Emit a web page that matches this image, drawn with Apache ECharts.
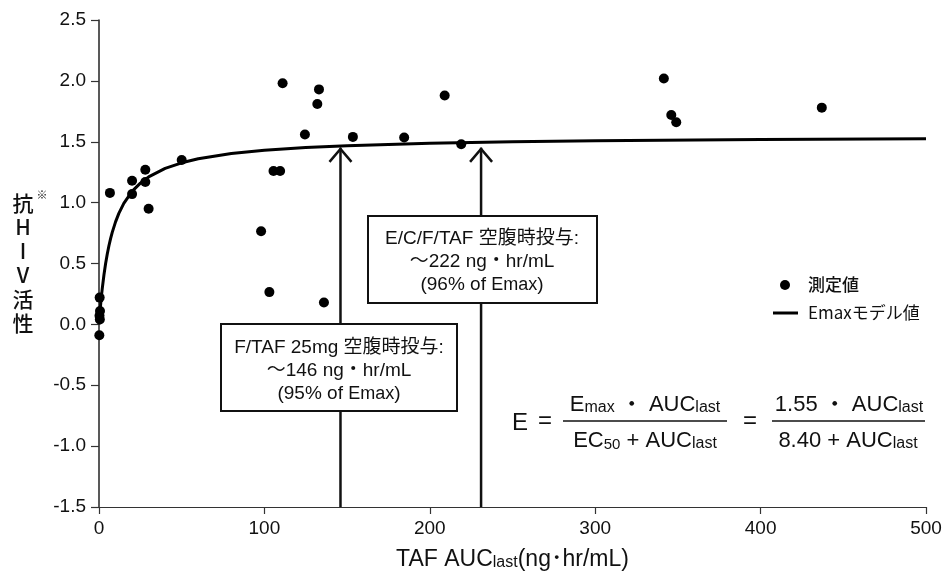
<!DOCTYPE html>
<html>
<head>
<meta charset="utf-8">
<script src="https://cdn.jsdelivr.net/npm/echarts@6/dist/echarts.min.js"></script>
<style>
html,body{margin:0;padding:0;background:#fff;}
#c{width:944px;height:574px;}
</style>
</head>
<body>
<div id="c"></div>
<script>
// ---- data ----
const scatterX = [0.4, 0.6, 0.3, 0.5, 0.2, 6.6, 20, 20, 28, 28, 30, 50, 98, 103, 105.5, 109.5, 111, 124.5, 132, 133, 136, 153.5, 184.5, 209, 219, 341.5, 346, 349, 437];
const scatterY = [0.22, 0.11, 0.07, 0.04, -0.09, 1.08, 1.18, 1.07, 1.27, 1.17, 0.95, 1.35, 0.765, 0.265, 1.26, 1.26, 1.98, 1.56, 1.81, 1.93, 0.18, 1.54, 1.535, 1.88, 1.48, 2.02, 1.72, 1.66, 1.78];
const curveX = [0, 0.5, 1, 1.5, 2, 3, 4, 5, 6, 7, 8, 10, 12, 15, 20, 25, 30, 40, 50, 60, 80, 100, 125, 150, 200, 250, 300, 400, 500];
const curveY = [0, 0.087, 0.165, 0.236, 0.298, 0.408, 0.5, 0.578, 0.646, 0.705, 0.756, 0.842, 0.912, 0.994, 1.092, 1.16, 1.211, 1.281, 1.327, 1.36, 1.403, 1.43, 1.452, 1.468, 1.488, 1.5, 1.508, 1.518, 1.524];
const arrowX = [146, 231];
const arrowTipY = [1.45, 1.45];
const xTicks = [0, 100, 200, 300, 400, 500];
const yTicks = [-1.5, -1.0, -0.5, 0.0, 0.5, 1.0, 1.5, 2.0, 2.5];
const seriesNames = ['測定値', 'Emaxモデル値'];
const box1Lines = ['F/TAF 25mg 空腹時投与:', '～146 ng・hr/mL', '(95% of {m|Emax})'];
const box2Lines = ['E/C/F/TAF 空腹時投与:', '～222 ng・hr/mL', '(96% of {m|Emax})'];
const yTitleChars = ['抗', 'H', 'I', 'V', '活', '性'];

const FONT = "'Liberation Sans', 'Noto Sans CJK JP', sans-serif";
const CJK = "'Noto Sans CJK JP', 'Liberation Sans', sans-serif";
const INK = '#111';

const chart = echarts.init(document.getElementById('c'), null, {renderer: 'canvas'});

function boxTexts(lines, cx, ys) {
  return lines.map((t, i) => ({
    type: 'text', z: 101, x: cx, y: ys[i],
    style: {
      text: t, fill: INK, font: '19px ' + FONT,
      align: 'center', verticalAlign: 'middle',
      rich: {m: {fontSize: 18, fontFamily: FONT, fill: INK}}
    }
  }));
}

const richF = {
  n: {fontSize: 22, fontFamily: FONT, fill: INK, verticalAlign: 'bottom'},
  s: {fontSize: 16, fontFamily: FONT, fill: INK, verticalAlign: 'bottom', lineHeight: 20},
  m: {fontSize: 16, fontFamily: FONT, fill: INK, verticalAlign: 'bottom'},
  k: {fontSize: 15, fontFamily: FONT, fill: INK, verticalAlign: 'bottom', lineHeight: 21}
};
function ftext(t, x, y) {
  return {type: 'text', z: 101, x: x, y: y,
    style: {text: t, align: 'center', verticalAlign: 'middle', rich: richF, font: '22px ' + FONT, fill: INK}};
}

const option = {
  animation: false,
  backgroundColor: '#fff',
  grid: {left: 99, right: 18, top: 20, bottom: 67, containLabel: false, outerBoundsMode: 'none'},
  xAxis: {
    type: 'value', min: 0, max: 500, interval: 100,
    axisLine: {show: true, onZero: false, lineStyle: {color: '#333', width: 1.2}},
    axisTick: {show: true, length: 7, lineStyle: {color: '#333', width: 1.2}},
    axisLabel: {fontSize: 19, fontFamily: FONT, color: INK, margin: 12,
      formatter: v => xTicks.includes(v) ? String(v) : ''},
    splitLine: {show: false},
    name: 'TAF AUC{s|last}(ng･hr/mL)',
    nameLocation: 'middle', nameGap: 41,
    nameTextStyle: {fontSize: 23, fontFamily: FONT, color: INK,
      rich: {s: {fontSize: 16, fontFamily: FONT, color: INK, verticalAlign: 'bottom', lineHeight: 20}}}
  },
  yAxis: {
    type: 'value', min: -1.5, max: 2.5, interval: 0.5,
    axisLine: {show: true, onZero: false, lineStyle: {color: '#222', width: 1.5}},
    axisTick: {show: true, length: 8, lineStyle: {color: '#333', width: 1.2}},
    axisLabel: {fontSize: 19, fontFamily: FONT, color: INK, margin: 13,
      formatter: v => yTicks.some(t => Math.abs(t - v) < 1e-9) ? v.toFixed(1) : ''},
    splitLine: {show: false}
  },
  series: [
    {
      name: seriesNames[1], type: 'line', z: 3,
      data: curveX.map((x, i) => [x, curveY[i]]),
      symbol: 'none', smooth: false,
      lineStyle: {color: '#000', width: 3},
      itemStyle: {color: '#000'}
    },
    {
      name: seriesNames[0], type: 'scatter', z: 4,
      data: scatterX.map((x, i) => [x, scatterY[i]]),
      symbol: 'circle', symbolSize: 10,
      itemStyle: {color: '#000', opacity: 1}
    },
    {
      type: 'custom', z: 2, silent: true,
      data: arrowX.map((x, i) => [x, arrowTipY[i]]),
      renderItem: function (params, api) {
        const x = api.value(0), ty = api.value(1);
        const top = api.coord([x, ty]);
        const bot = api.coord([x, -1.5]);
        return {
          type: 'group',
          children: [
            {type: 'line', shape: {x1: top[0], y1: top[1], x2: bot[0], y2: bot[1]},
              style: {stroke: INK, lineWidth: 2.5}},
            {type: 'polyline', shape: {points: [[top[0] - 11, top[1] + 14], [top[0], top[1] + 1], [top[0] + 11, top[1] + 14]]},
              style: {stroke: INK, lineWidth: 2.5, fill: null}}
          ]
        };
      }
    }
  ],
  graphic: [
    {type: 'rect', z: 100, shape: {x: 221, y: 324, width: 236, height: 87},
      style: {fill: '#fff', stroke: INK, lineWidth: 2}},
    {type: 'rect', z: 100, shape: {x: 368, y: 216, width: 229, height: 87},
      style: {fill: '#fff', stroke: INK, lineWidth: 2}},
    ...boxTexts(box1Lines, 339, [348, 371, 394]),
    ...boxTexts(box2Lines, 482, [239, 262, 285]),
    // y-axis title
    {type: 'text', z: 101, x: 23, y: 191,
      style: {text: yTitleChars.join('\n'), font: '500 21px ' + CJK, fill: INK, align: 'center', verticalAlign: 'top', lineHeight: 24}},
    {type: 'text', z: 101, x: 42, y: 195,
      style: {text: '※', font: '11px ' + CJK, fill: INK, align: 'center', verticalAlign: 'middle'}},
    // legend
    {type: 'circle', z: 101, shape: {cx: 785, cy: 285, r: 5}, style: {fill: '#000'}},
    {type: 'text', z: 101, x: 808, y: 285,
      style: {text: seriesNames[0], font: '500 17px ' + CJK, fill: INK, align: 'left', verticalAlign: 'middle'}},
    {type: 'line', z: 101, shape: {x1: 773, y1: 313, x2: 798, y2: 313}, style: {stroke: '#000', lineWidth: 3}},
    {type: 'text', z: 101, x: 808, y: 313,
      style: {text: seriesNames[1], font: '17px ' + CJK, fill: INK, align: 'left', verticalAlign: 'middle'}},
    // formula
    {type: 'text', z: 101, x: 520, y: 423, style: {text: 'E', font: '24px ' + FONT, fill: INK, align: 'center', verticalAlign: 'middle'}},
    {type: 'text', z: 101, x: 545, y: 421, style: {text: '=', font: '24px ' + FONT, fill: INK, align: 'center', verticalAlign: 'middle'}},
    ftext('{n|E}{m|max}{n| ・ AUC}{s|last}', 645, 405),
    ftext('{n|EC}{k|50}{n| + AUC}{s|last}', 645, 441),
    {type: 'line', z: 101, shape: {x1: 563, y1: 421, x2: 727, y2: 421}, style: {stroke: INK, lineWidth: 1.5}},
    {type: 'text', z: 101, x: 750, y: 421, style: {text: '=', font: '24px ' + FONT, fill: INK, align: 'center', verticalAlign: 'middle'}},
    ftext('{n|1.55 ・ AUC}{s|last}', 849, 405),
    ftext('{n|8.40 + AUC}{s|last}', 848, 441),
    {type: 'line', z: 101, shape: {x1: 772, y1: 421, x2: 925, y2: 421}, style: {stroke: INK, lineWidth: 1.5}}
  ]
};
chart.setOption(option);
</script>
</body>
</html>
